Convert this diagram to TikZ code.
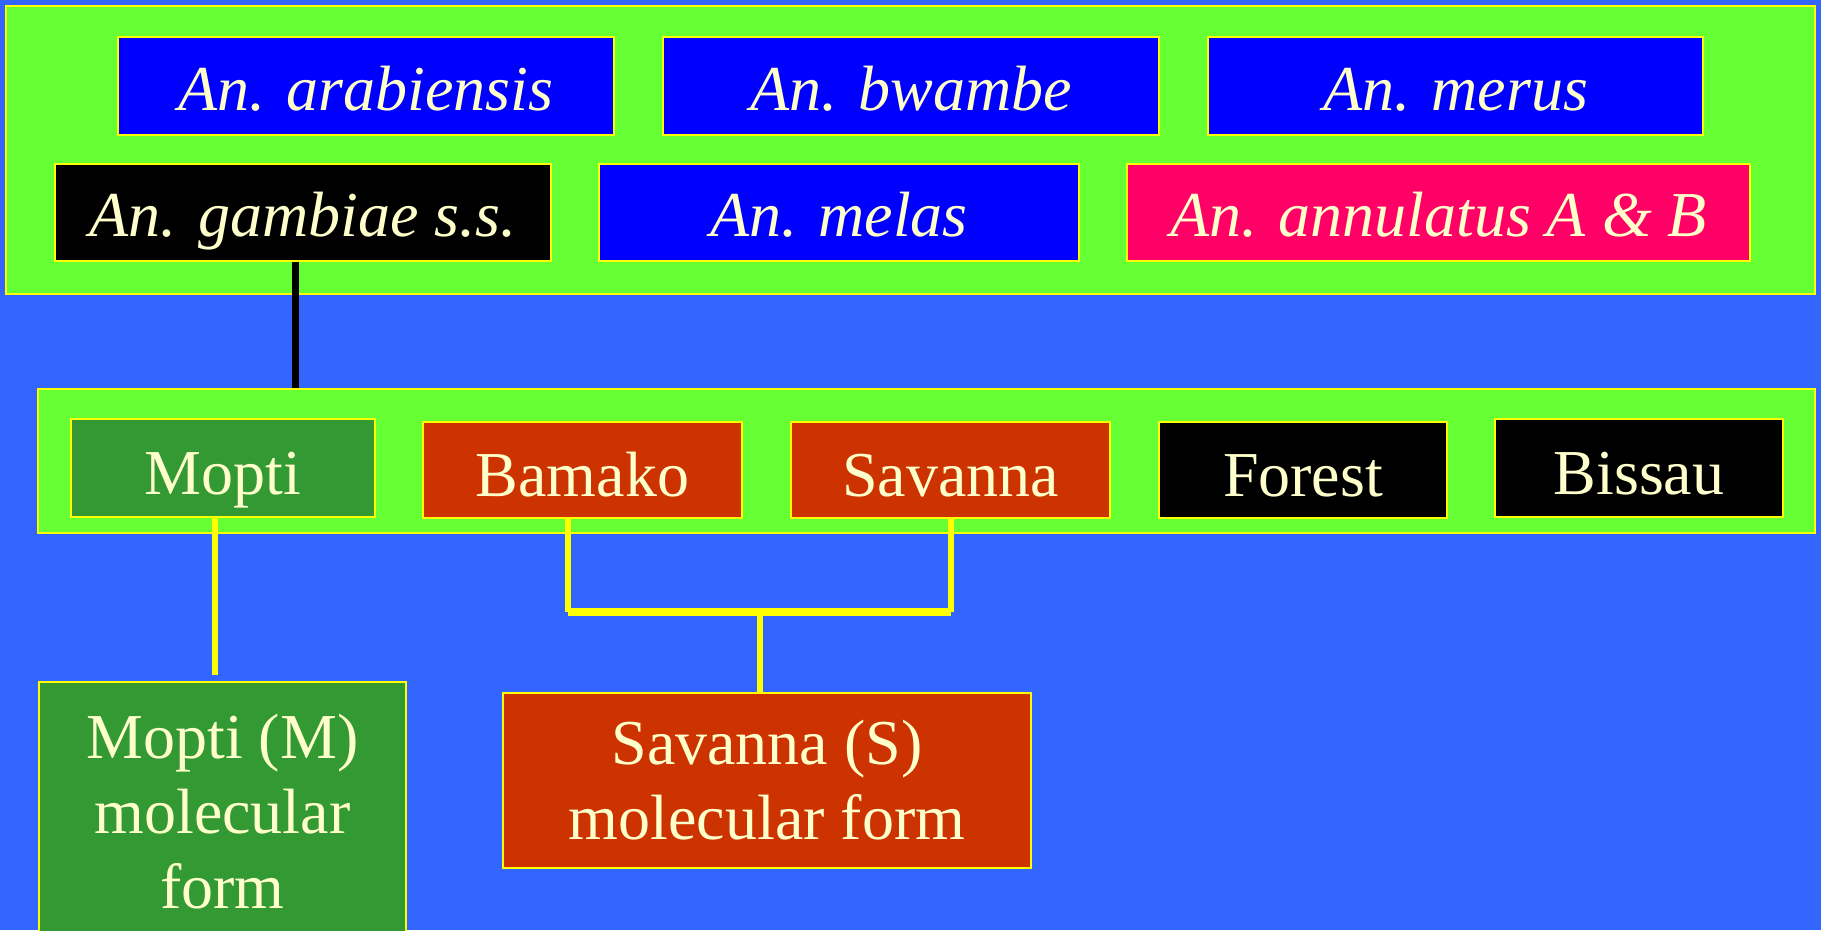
\documentclass[tikz,border=0pt]{standalone}
\usepackage{fontspec}
\setmainfont{Liberation Serif}
\definecolor{bgblue}{HTML}{3366FF}
\definecolor{lime}{HTML}{66FF33}
\definecolor{pureblue}{HTML}{0000FF}
\definecolor{rose}{HTML}{FF0066}
\definecolor{leaf}{HTML}{339933}
\definecolor{rust}{HTML}{CC3300}
\definecolor{cream}{HTML}{FFFFCC}
\definecolor{rim}{HTML}{FFFF00}
\tikzset{
  panel/.style={draw=rim, line width=1.5pt, fill=lime, inner sep=0pt},
  tag/.style={draw=rim, line width=1.5pt, inner sep=0pt, text=cream,
    font=\fontsize{64}{75}\selectfont, align=center},
  oneline/.style={tag, text height=52pt, text depth=0pt},
  species/.style={tag, text height=48pt, text depth=0pt,
    font=\fontsize{64}{75}\selectfont\itshape},
  blackbar/.style={line width=7pt, black},
  ylink/.style={line width=6pt, rim},
  ybar/.style={line width=8pt, rim},
}
\begin{document}
\begin{tikzpicture}[x=1pt, y=-1pt]
\fill[bgblue] (0,0) rectangle (1821,930);
\useasboundingbox (0,0) rectangle (1821,930);

% species complex panel
\node[panel, minimum width=1809pt, minimum height=288pt] (complex) at (910.5,150) {};
\node[species, fill=pureblue, minimum width=496pt, minimum height=98pt] (arab) at (366,86) {An. arabiensis};
\node[species, fill=pureblue, minimum width=496pt, minimum height=98pt] (bwam) at (911,86) {An. bwambe};
\node[species, fill=pureblue, minimum width=495pt, minimum height=98pt] (meru) at (1455.5,86) {An. merus};
\node[species, fill=black, minimum width=496pt, minimum height=97pt] (gamb) at (303,212.5) {An. gambiae s.s.};
\node[species, fill=pureblue, minimum width=480pt, minimum height=97pt] (mela) at (839,212.5) {An. melas};
\node[species, fill=rose, minimum width=623pt, minimum height=97pt] (annu) at (1438.5,212.5) {An. annulatus A \& B};

% chromosomal forms panel
\node[panel, minimum width=1777pt, minimum height=144pt] (forms) at (926.5,461) {};
\node[oneline, fill=leaf, minimum width=304pt, minimum height=98pt] (mopti) at (223,468) {Mopti};
\node[oneline, fill=rust, minimum width=319pt, minimum height=96pt] (bama) at (582.5,470) {Bamako};
\node[oneline, fill=rust, minimum width=319pt, minimum height=96pt] (sava) at (950.5,470) {Savanna};
\node[oneline, fill=black, minimum width=288pt, minimum height=96pt] (fore) at (1303,470) {Forest};
\node[oneline, fill=black, minimum width=288pt, minimum height=98pt] (biss) at (1639,468) {Bissau};

% molecular forms
\node[tag, fill=leaf, minimum width=367pt, minimum height=260pt] (mform) at (222.5,812) {Mopti (M)\\molecular\\form};
\node[tag, fill=rust, minimum width=528pt, minimum height=175pt] (sform) at (767,780.5) {Savanna (S)\\molecular form};

% connectors
\draw[blackbar] ([xshift=-8pt]gamb.south) -- ([xshift=-8pt]gamb.south |- forms.north);
\draw[ylink] ([xshift=-8pt]mopti.south) -- ([xshift=-8pt,yshift=6pt]mopti.south |- mform.north);
\coordinate (join) at (760,612);
\draw[ylink] ([xshift=-15pt]bama.south) -- ([xshift=-15pt]bama.south |- join);
\draw[ylink] (sava.south) -- (sava.south |- join);
\draw[ybar] ([xshift=-15pt]bama.south |- join) -- (sava.south |- join);
\draw[ylink] (join) -- (join |- sform.north);
\end{tikzpicture}
\end{document}
